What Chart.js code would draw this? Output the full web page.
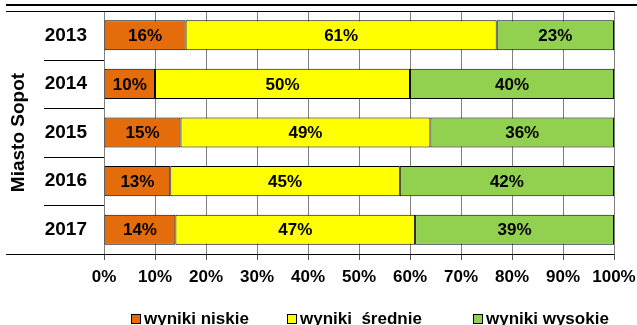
<!DOCTYPE html>
<html>
<head>
<meta charset="utf-8">
<script src="https://cdn.jsdelivr.net/npm/chart.js@4"></script>
<style>
  html, body { margin: 0; padding: 0; background: #fff; }
  #wrap { width: 637px; height: 325px; position: relative; }
</style>
</head>
<body>
<div id="wrap"><canvas id="chart"></canvas></div>
<script>
const years = ['2013', '2014', '2015', '2016', '2017'];
const niskie = [16, 10, 15, 13, 14];
const srednie = [61, 50, 49, 45, 47];
const wysokie = [23, 40, 36, 42, 39];
const seriesNames = ['wyniki niskie', 'wyniki  średnie', 'wyniki wysokie'];
const xTicks = [0, 10, 20, 30, 40, 50, 60, 70, 80, 90, 100];

const FONT = "'Liberation Sans', Arial, sans-serif";

// value labels inside each segment
const valueLabels = {
    id: 'valueLabels',
    afterDatasetsDraw(chart) {
        const ctx = chart.ctx;
        ctx.save();
        ctx.font = 'bold 17px ' + FONT;
        ctx.fillStyle = '#000';
        ctx.textAlign = 'center';
        ctx.textBaseline = 'middle';
        chart.data.datasets.forEach((ds, i) => {
            chart.getDatasetMeta(i).data.forEach((bar, j) => {
                const p = bar.getCenterPoint();
                ctx.fillText(ds.data[j] + '%', p.x, p.y + 1);
            });
        });
        ctx.restore();
    }
};

// frame lines, category separators and legend
const extras = {
    id: 'extras',
    afterDraw(chart) {
        const ctx = chart.ctx;
        const area = chart.chartArea;
        const y = chart.scales.y;
        ctx.save();
        ctx.strokeStyle = '#000';
        ctx.lineWidth = 2;
        ctx.beginPath();
        ctx.moveTo(6, 5); ctx.lineTo(637, 5);
        ctx.stroke();
        ctx.lineWidth = 1;
        ctx.beginPath();
        ctx.moveTo(6, area.top + 0.5); ctx.lineTo(area.right, area.top + 0.5);
        ctx.moveTo(6, area.bottom + 0.5); ctx.lineTo(area.right, area.bottom + 0.5);
        for (let i = 0; i < years.length - 1; i++) {
            const yy = Math.round((y.getPixelForValue(i) + y.getPixelForValue(i + 1)) / 2) + 0.5;
            ctx.moveTo(44, yy); ctx.lineTo(area.left, yy);
        }
        ctx.stroke();

        // legend
        const boxX = [131, 287, 473];
        ctx.font = 'bold 17px ' + FONT;
        ctx.textBaseline = 'middle';
        ctx.textAlign = 'left';
        chart.data.datasets.forEach((ds, i) => {
            ctx.fillStyle = ds.backgroundColor;
            ctx.fillRect(boxX[i], 314, 10, 10);
            ctx.strokeStyle = '#000';
            ctx.strokeRect(boxX[i] + 0.5, 314.5, 9, 9);
            ctx.fillStyle = '#000';
            ctx.fillText(ds.label, boxX[i] + 13, 319);
        });
        ctx.restore();
    }
};

const ctx = document.getElementById('chart').getContext('2d');
new Chart(ctx, {
    type: 'bar',
    data: {
        labels: years,
        datasets: [
            { label: seriesNames[0], data: niskie, backgroundColor: '#E46C0A' },
            { label: seriesNames[1], data: srednie, backgroundColor: '#FFFF00' },
            { label: seriesNames[2], data: wysokie, backgroundColor: '#92D050' }
        ].map(d => Object.assign(d, {
            borderColor: '#000',
            borderWidth: 1,
            borderSkipped: false,
            barPercentage: 0.62,
            categoryPercentage: 1
        }))
    },
    options: {
        indexAxis: 'y',
        responsive: true,
        maintainAspectRatio: false,
        animation: false,
        layout: { padding: { top: 11, right: 23, left: 0, bottom: 0 } },
        plugins: {
            legend: { display: false },
            tooltip: { enabled: false }
        },
        scales: {
            x: {
                stacked: true,
                min: 0,
                max: 100,
                afterBuildTicks: (scale) => { scale.ticks = xTicks.map(v => ({ value: v })); },
                afterFit: (scale) => {
                    scale.height = 71;
                    scale.paddingLeft = 0; scale.paddingRight = 0;
                    scale.paddingTop = 0; scale.paddingBottom = 0;
                },
                ticks: {
                    callback: v => v + '%',
                    color: '#000',
                    font: { family: FONT, size: 17, weight: 'bold' },
                    padding: 7,
                    maxRotation: 0
                },
                grid: { color: '#808080', tickColor: '#555', tickLength: 6, lineWidth: 1 },
                border: { display: false }
            },
            y: {
                stacked: true,
                afterFit: (scale) => {
                    scale.width = 104;
                    scale.paddingLeft = 0; scale.paddingRight = 0;
                    scale.paddingTop = 0; scale.paddingBottom = 0;
                },
                ticks: {
                    color: '#000',
                    font: { family: FONT, size: 19, weight: 'bold' },
                    padding: 17
                },
                grid: { display: false, drawTicks: false, tickLength: 0 },
                border: { display: false },
                title: {
                    display: true,
                    text: 'Miasto Sopot',
                    color: '#000',
                    font: { family: FONT, size: 19, weight: 'bold' },
                    padding: { top: 7, bottom: 0 }
                }
            }
        }
    },
    plugins: [valueLabels, extras]
});
</script>
</body>
</html>
